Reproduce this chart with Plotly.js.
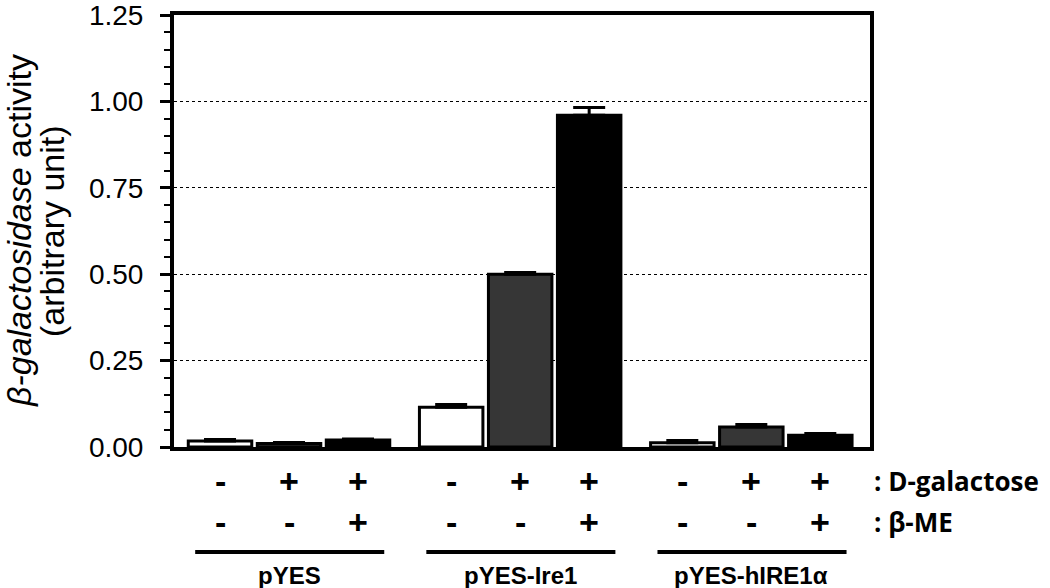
<!DOCTYPE html>
<html>
<head>
<meta charset="utf-8">
<script src="https://cdn.plot.ly/plotly-3.0.1.min.js"></script>
<style>html,body{margin:0;padding:0;background:#fff;}#chart{width:1050px;height:588px;}</style>
</head>
<body>
<div id="chart"></div>
<script>
// ---- data ----
const groups = ['pYES', 'pYES-Ire1', 'pYES-hIRE1α'];
const galactose = ['-', '+', '+'];
const bme = ['-', '-', '+'];
const pYES = [0.017, 0.010, 0.020];
const pYES_Ire1 = [0.115, 0.500, 0.960];
const pYES_hIRE1a = [0.012, 0.058, 0.034];
const err_pYES = [0.005, 0.003, 0.003];
const err_pYES_Ire1 = [0.008, 0.005, 0.022];
const err_pYES_hIRE1a = [0.007, 0.007, 0.005];
const yTitleLines = ['<i>β-galactosidase</i> activity', '(arbitrary unit)'];
const rowLabels = [': D-galactose', ': β-ME'];

// ---- build ----
const groupStep = 3.35;
const values = [pYES, pYES_Ire1, pYES_hIRE1a];
const errs = [err_pYES, err_pYES_Ire1, err_pYES_hIRE1a];
const condColors = ['#ffffff', '#363636', '#000000'];

const xs = [], ys = [], es = [], cols = [];
values.forEach((vals, g) => {
  vals.forEach((v, i) => {
    xs.push(g * groupStep + i);
    ys.push(v);
    es.push(errs[g][i]);
    cols.push(condColors[i]);
  });
});

const trace = {
  type: 'bar',
  x: xs, y: ys,
  width: 0.92,
  marker: {color: cols, line: {color: '#000', width: 3}},
  error_y: {type: 'data', array: es, arrayminus: es.map(() => 0), symmetric: false,
            color: '#000', thickness: 3, width: 16},
  hoverinfo: 'none'
};

// plot area in pixels
const L = 174, R = 870, T = 15, B = 447;
const py = p => (B - p) / (B - T);
const px = p => (p - L) / (R - L);

const annotations = [];
const shapes = [];
const symFont = {family: 'Liberation Sans, Arial', size: 34, color: '#000'};
groups.forEach((name, g) => {
  for (let i = 0; i < 3; i++) {
    const x = g * groupStep + i;
    annotations.push({x: x, y: py(481), xref: 'x', yref: 'paper', text: '<b>' + galactose[i] + '</b>',
      showarrow: false, font: symFont, yanchor: 'middle'});
    annotations.push({x: x, y: py(522), xref: 'x', yref: 'paper', text: '<b>' + bme[i] + '</b>',
      showarrow: false, font: symFont, yanchor: 'middle'});
  }
  shapes.push({type: 'line', xref: 'x', yref: 'paper', x0: g * groupStep - 0.36, x1: g * groupStep + 2.38,
    y0: py(552), y1: py(552), line: {color: '#000', width: 4}});
  annotations.push({x: g * groupStep + 1, y: py(575), xref: 'x', yref: 'paper', text: '<b>' + name + '</b>',
    showarrow: false, font: {family: 'Liberation Sans, Arial', size: 24, color: '#000'}, yanchor: 'middle'});
});
[481, 522].forEach((yy, k) => {
  annotations.push({x: 1.0, y: py(yy), xref: 'paper', yref: 'paper', xanchor: 'left', yanchor: 'middle',
    text: '<b>' + rowLabels[k] + '</b>', showarrow: false,
    font: {family: 'Open Sans', size: 26, color: '#000'}, xshift: 2});
});
// y-axis title, two tightly spaced lines
[19, 52].forEach((xx, k) => {
  annotations.push({x: px(xx), y: 0.5, xref: 'paper', yref: 'paper', xanchor: 'center', yanchor: 'middle',
    textangle: -90, text: yTitleLines[k], showarrow: false,
    font: {family: 'Liberation Sans, Arial', size: 34, color: '#000'}});
});

const layout = {
  width: 1050, height: 588,
  margin: {l: L, r: 1050 - R, t: T, b: 588 - B},
  paper_bgcolor: '#fff', plot_bgcolor: '#fff',
  showlegend: false,
  font: {family: 'Liberation Sans, Arial', color: '#000'},
  xaxis: {
    range: [-0.667, 9.42], showline: true, mirror: true, linecolor: '#000', linewidth: 4,
    showgrid: false, zeroline: false, showticklabels: false, ticks: ''
  },
  yaxis: {
    range: [0, 1.25], tickmode: 'linear', tick0: 0, dtick: 0.25, tickformat: '.2f',
    ticks: 'outside', ticklen: 10, tickwidth: 3, tickcolor: '#000',
    minor: {dtick: 0.05, ticks: 'outside', ticklen: 6, tickwidth: 2, tickcolor: '#000'},
    tickfont: {size: 28, family: 'Liberation Sans, Arial', color: '#000'},
    ticklabelstandoff: 11, ticklabeloverflow: 'allow',
    showline: true, mirror: true, linecolor: '#000', linewidth: 4,
    showgrid: true, gridcolor: '#000', gridwidth: 1.3, griddash: 'dot',
    zeroline: false
  },
  annotations: annotations,
  shapes: shapes
};

Plotly.newPlot('chart', [trace], layout, {displayModeBar: false, staticPlot: true});
</script>
</body>
</html>
